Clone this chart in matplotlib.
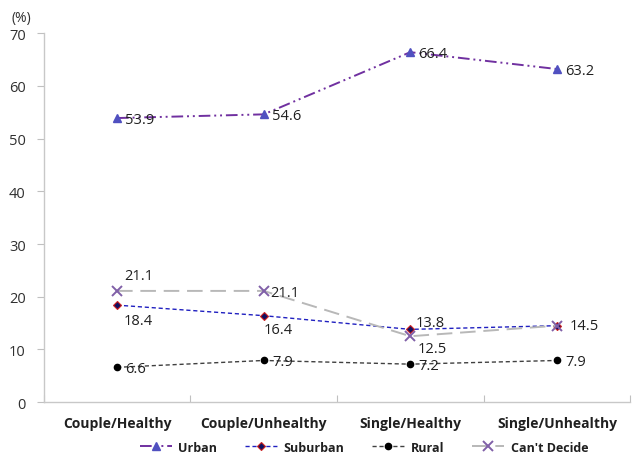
import matplotlib
matplotlib.use("Agg")
import matplotlib.pyplot as plt

plt.rcParams['font.family'] = ['Open Sans', 'DejaVu Sans']

categories = ["Couple/Healthy", "Couple/Unhealthy", "Single/Healthy", "Single/Unhealthy"]
urban = [53.9, 54.6, 66.4, 63.2]
suburban = [18.4, 16.4, 13.8, 14.5]
rural = [6.6, 7.9, 7.2, 7.9]
cant_decide = [21.1, 21.1, 12.5, 14.5]
y_ticks = [0, 10, 20, 30, 40, 50, 60, 70]

fig = plt.figure(figsize=(6.34, 4.56), dpi=100)
ax = fig.add_axes([0.069, 0.116, 0.925, 0.809])

x = list(range(len(categories)))

ax.plot(x, urban, color='#7030A0', lw=1.4, dashes=(6, 2, 1, 2, 1, 2),
        marker='^', ms=6, mfc='#5050C0', mec='#5050C0', label='Urban')
ax.plot(x, suburban, color='#2020C0', lw=1.0, dashes=(3, 2),
        marker='D', ms=4, mfc='#101060', mec='#D02020', mew=0.8, label='Suburban')
ax.plot(x, rural, color='#404040', lw=1.0, dashes=(3, 2),
        marker='o', ms=4.5, mfc='black', mec='black', label='Rural')
ax.plot(x, cant_decide, color='#B8B8B8', lw=1.4, dashes=(8, 4),
        marker='x', ms=7, mec='#8060A8', mew=1.4, label="Can't Decide")

fs = 10.5
lab_color = '#202020'

def label(xi, v, dx, dy, ha='left', va='center'):
    ax.annotate(f"{v:.1f}", (xi, v), xytext=(dx, dy), textcoords='offset points',
                ha=ha, va=va, fontsize=fs, color=lab_color)

for i, v in enumerate(urban):
    label(i, v, 6, -1)
# Suburban
label(0, suburban[0], 5, -11)
label(1, suburban[1], 0, -10)
label(2, suburban[2], 4, 5)
# Rural
for i, v in enumerate(rural):
    label(i, v, 6, -1)
# Can't Decide
label(0, cant_decide[0], 5, 11)
label(1, cant_decide[1], 5, -1)
label(2, cant_decide[2], 5, -9)
label(3, cant_decide[3], 9, 0)

ax.set_xlim(-0.5, 3.5)
ax.set_ylim(0, 70)
ax.set_yticks(y_ticks)
ax.set_yticklabels([str(t) for t in y_ticks], fontsize=10.5, color='#303030')

ax.set_xticks([-0.5, 0.5, 1.5, 2.5, 3.5])
ax.set_xticklabels([])
ax.set_xticks(x, minor=True)
ax.set_xticklabels(categories, minor=True, fontsize=10, fontweight='bold', color='#202020')
ax.tick_params(axis='x', which='minor', length=0, pad=10)
ax.tick_params(axis='x', which='major', length=5, color='#C0C0C0', direction='in')
ax.tick_params(axis='y', length=5, color='#C0C0C0', pad=8)

for s in ['top', 'right']:
    ax.spines[s].set_visible(False)
for s in ['left', 'bottom']:
    ax.spines[s].set_color('#C8C8C8')
    ax.spines[s].set_linewidth(1.0)

fig.text(0.018, 0.952, '(%)', fontsize=10, color='#303030')

leg = fig.legend(loc='lower center', bbox_to_anchor=(0.574, -0.022), ncol=4, frameon=False,
                 prop={'size': 9, 'weight': 'bold'}, handlelength=2.6,
                 columnspacing=2.2, handletextpad=0.5)
for t in leg.get_texts():
    t.set_color('#202020')

fig.savefig('out.png', dpi=100)
